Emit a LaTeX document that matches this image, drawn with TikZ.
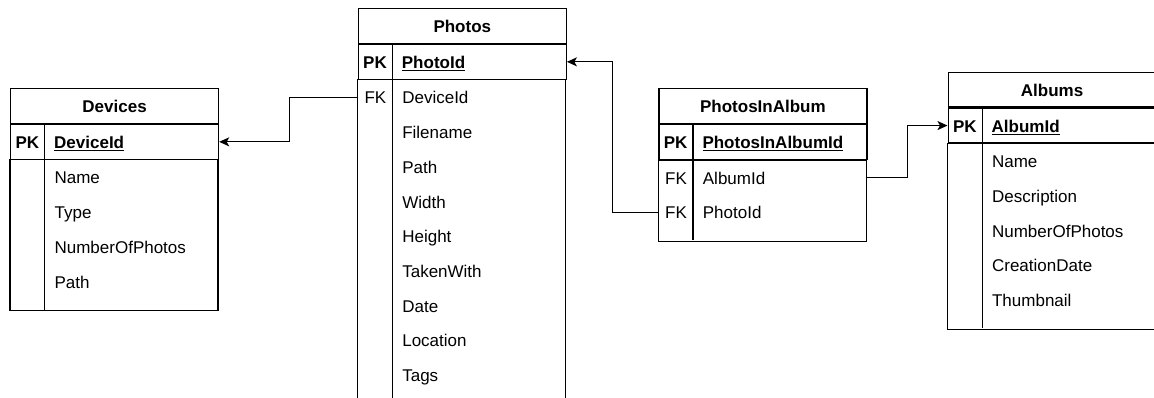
\documentclass[tikz,border=0pt]{standalone}
\usepackage{fontspec}
\setmainfont{Liberation Sans}
\usetikzlibrary{positioning, arrows.meta}

\tikzset{
	tabtitle/.style={draw, line width=1.2pt, minimum width=208, minimum height=34.7,
		inner sep=0pt, anchor=north west, font=\bfseries, text height=13.3, text depth=0},
	keyrow/.style={draw, line width=1.2pt, minimum width=208, minimum height=34.7, inner sep=0pt},
	fieldrow/.style={minimum width=208, minimum height=34.7, inner sep=0pt, anchor=north},
	fieldtxt/.style={anchor=west, inner sep=0pt, text height=13.3, text depth=0},
	keytxt/.style={fieldtxt, anchor=center},
	tabline/.style={line width=1.2pt},
	fk/.style={line width=1.2pt, -{Stealth[length=10pt, width=9pt, inset=2.5pt]}}
}

\begin{document}
\fontsize{17}{20}\selectfont
\begin{tikzpicture}[x=1pt, y=-1pt]
	\useasboundingbox (0,0) rectangle (1154,398);
	\clip (0,0) rectangle (1154,398);
	
	% Devices
	\node[tabtitle] (dev) at (10,88) {Devices};
	\node[keyrow, below=0pt of dev] (dev-pk) {};
	\draw[tabline] (dev-pk.south west) rectangle ++(208,150.9);
	\draw[tabline] ([xshift=34.7]dev-pk.north west) -- ++(0,185.6);
	\node[keytxt, font=\bfseries] at ([xshift=17.35]dev-pk.west) {PK};
	\node[fieldtxt, font=\bfseries] at ([xshift=44]dev-pk.west) {\underline{DeviceId}};
	\foreach \f [count=\i] in {Name,Type,NumberOfPhotos,Path} {
		\node[fieldrow] (dev-r\i) at ([yshift={-34.7*(\i-1)}]dev-pk.south) {};
		\node[fieldtxt] at ([xshift=44]dev-r\i.west) {\f};
	}
	
	% Photos
	\node[tabtitle] (pho) at (357.7,8) {Photos};
	\node[keyrow, below=0pt of pho] (pho-pk) {};
	\draw[tabline] (pho-pk.south west) rectangle ++(208,400);
	\draw[tabline] ([xshift=34.7]pho-pk.north west) -- ++(0,440);
	\node[keytxt, font=\bfseries] at ([xshift=17.35]pho-pk.west) {PK};
	\node[fieldtxt, font=\bfseries] at ([xshift=44]pho-pk.west) {\underline{PhotoId}};
	\foreach \f [count=\i] in {DeviceId,Filename,Path,Width,Height,TakenWith,Date,Location,Tags} {
		\node[fieldrow] (pho-r\i) at ([yshift={-34.7*(\i-1)}]pho-pk.south) {};
		\node[fieldtxt] at ([xshift=44]pho-r\i.west) {\f};
	}
	\node[keytxt] at ([xshift=17.35]pho-r1.west) {FK};
	
	% PhotosInAlbum
	\node[tabtitle] (pia) at (658.3,88.3) {PhotosInAlbum};
	\node[keyrow, below=0pt of pia] (pia-pk) {};
	\draw[tabline] (pia-pk.south west) rectangle ++(208,81.3);
	\draw[tabline] ([xshift=34.7]pia-pk.north west) -- ++(0,116);
	\node[keytxt, font=\bfseries] at ([xshift=17.35]pia-pk.west) {PK};
	\node[fieldtxt, font=\bfseries] at ([xshift=44]pia-pk.west) {\underline{PhotosInAlbumId}};
	\foreach \f [count=\i] in {AlbumId,PhotoId} {
		\node[fieldrow] (pia-r\i) at ([yshift={-34.7*(\i-1)}]pia-pk.south) {};
		\node[fieldtxt] at ([xshift=44]pia-r\i.west) {\f};
		\node[keytxt] at ([xshift=17.35]pia-r\i.west) {FK};
	}
	
	% Albums
	\node[tabtitle] (alb) at (947.5,71.7) {Albums};
	\node[keyrow, below=0pt of alb] (alb-pk) {};
	\draw[tabline] (alb-pk.south west) rectangle ++(208,185.7);
	\draw[tabline] ([xshift=34.7]alb-pk.north west) -- ++(0,220.4);
	\node[keytxt, font=\bfseries] at ([xshift=17.35]alb-pk.west) {PK};
	\node[fieldtxt, font=\bfseries] at ([xshift=44]alb-pk.west) {\underline{AlbumId}};
	\foreach \f [count=\i] in {Name,Description,NumberOfPhotos,CreationDate,Thumbnail} {
		\node[fieldrow] (alb-r\i) at ([yshift={-34.7*(\i-1)}]alb-pk.south) {};
		\node[fieldtxt] at ([xshift=44]alb-r\i.west) {\f};
	}
	
	\draw[fk] (pho-r1.west) -- ++(-69,0) |- (dev-pk.east);
	\draw[fk] (pia-r2.west) -- ++(-46.6,0) |- (pho-pk.east);
	\draw[fk] (pia-r1.east) -- ++(40,0) |- (alb-pk.west);
\end{tikzpicture}
\end{document}
